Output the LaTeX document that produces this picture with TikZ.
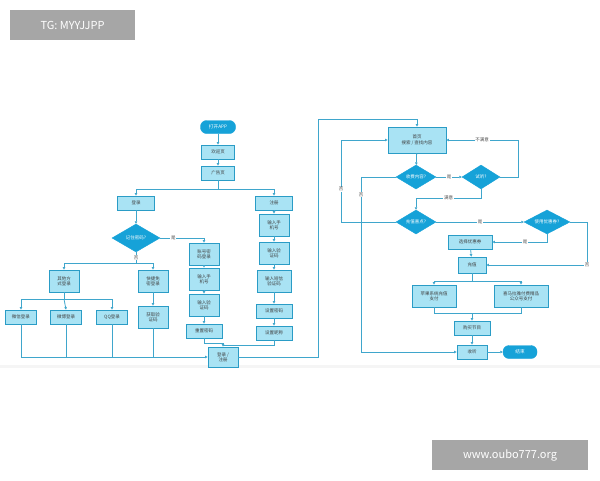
\documentclass[tikz,border=0pt]{standalone}
\usepackage{fontspec}
\setmainfont{Noto Sans CJK SC}
\usetikzlibrary{shapes.geometric,arrows.meta}
\definecolor{bx}{HTML}{A9E3F4}
\definecolor{bd}{HTML}{2A9CC6}
\definecolor{dm}{HTML}{16A2D8}
\definecolor{ln}{HTML}{3FA6CC}
\definecolor{wm}{HTML}{A6A6A6}
\begin{document}
\begin{tikzpicture}[x=1pt,y=-1pt,
  box/.style={draw=bd,fill=bx,line width=0.8pt,inner sep=0.5pt,align=center,font=\fontsize{4.5}{5.2}\selectfont,text=black!75},
  dia/.style={diamond,aspect=1.7,fill=dm,draw=dm,inner sep=0pt,align=center,font=\fontsize{4.5}{5}\selectfont,text=white},
  pill/.style={rounded corners=6pt,fill=dm,draw=dm,inner sep=0pt,font=\fontsize{4.7}{5}\selectfont,text=white},
  lab/.style={fill=white,inner sep=0.6pt,font=\fontsize{4.5}{5}\selectfont,text=black!70},
  a/.style={draw=ln,line width=0.8pt,-{Triangle[length=2.5pt,width=2.5pt]}},
  l/.style={draw=ln,line width=0.8pt},
  wmk/.style={fill=wm,text=white,font=\fontsize{11}{12}\selectfont,inner sep=0pt}]
\useasboundingbox (0,0) rectangle (600,480);
\fill[white] (0,0) rectangle (600,480);
\fill[black!4] (0,365) rectangle (600,368);
\node[wmk,minimum width=125pt,minimum height=30pt] (wm1) at (72.5,25) {TG: MYYJJPP};
\node[wmk,minimum width=156pt,minimum height=30pt] (wm2) at (510,455) {www.oubo777.org};
% left part
\node[pill,minimum width=35pt,minimum height=13pt] (open) at (218,127) {打开APP};
\node[box,minimum width=33pt,minimum height=14pt] (wel) at (218,152) {欢迎页};
\node[box,minimum width=33pt,minimum height=14pt] (ad) at (218,173) {广告页};
\node[box,minimum width=37pt,minimum height=14pt] (login) at (136,203) {登录};
\node[box,minimum width=37pt,minimum height=14pt] (reg) at (274,203) {注册};
\node[dia,minimum width=48pt,minimum height=28pt] (rem) at (136,238) {记住密码?};
\node[box,minimum width=30pt,minimum height=22pt] (acc) at (204,254) {账号密\\码登录};
\node[box,minimum width=30pt,minimum height=22pt] (ph1) at (204,279) {输入手\\机号};
\node[box,minimum width=30pt,minimum height=22pt] (vc1) at (204,305) {输入验\\证码};
\node[box,minimum width=36pt,minimum height=14pt] (rst) at (204,331) {重置密码};
\node[box,minimum width=30pt,minimum height=22pt] (oth) at (64,281) {其他方\\式登录};
\node[box,minimum width=30pt,minimum height=22pt] (qk) at (153,281) {快捷免\\密登录};
\node[box,minimum width=31pt,minimum height=14pt] (wx) at (21,317) {微信登录};
\node[box,minimum width=31pt,minimum height=14pt] (wb) at (66,317) {微博登录};
\node[box,minimum width=31pt,minimum height=14pt] (qq) at (112,317) {QQ登录};
\node[box,minimum width=30pt,minimum height=22pt] (gv) at (153,317) {获取验\\证码};
\node[box,minimum width=30pt,minimum height=22pt] (ph2) at (274,225) {输入手\\机号};
\node[box,minimum width=30pt,minimum height=22pt] (vc2) at (274,253) {输入验\\证码};
\node[box,minimum width=34pt,minimum height=22pt] (sms) at (274,281) {输入短信\\验证码};
\node[box,minimum width=36pt,minimum height=14pt] (spw) at (274,311) {设置密码};
\node[box,minimum width=36pt,minimum height=14pt] (snk) at (274,333) {设置昵称};
\node[box,minimum width=30pt,minimum height=20pt] (lr) at (223,357) {登录 /\\注册};
\path[a] (open) -- (wel);
\path[a] (wel) -- (ad);
\path[l] (ad) -- (218,189);
\path[a] (218,189) -| (login);
\path[a] (218,189) -| (reg);
\path[a] (login) -- (rem);
\path[a] (rem.east) -| node[lab,pos=0.15]{是} (acc.north);
\path[l] (rem.south) -- node[lab,pos=0.5]{否} (136,263);
\path[a] (136,263) -| (oth.north);
\path[a] (136,263) -| (qk.north);
\path[l] (oth) -- (64,299);
\path[a] (64,299) -| (wx.north);
\path[a] (64,299) -- (wb.north);
\path[a] (64,299) -| (qq.north);
\path[a] (qk) -- (gv);
\path[a] (acc) -- (ph1);
\path[a] (ph1) -- (vc1);
\path[a] (vc1) -- (rst);
\path[a] (reg) -- (ph2);
\path[a] (ph2) -- (vc2);
\path[a] (vc2) -- (sms);
\path[a] (sms) -- (spw);
\path[a] (spw) -- (snk);
\path[a] (wx.south) |- (lr.west);
\path[l] (wb.south) -- (66,357);
\path[l] (qq.south) -- (112,357);
\path[l] (gv.south) -- (153,357);
\path[l] (rst.south) -- (204,343) -| (223,345);
\path[a] (snk.south) -- (274,345) -| (lr.north);
% right part
\node[box,minimum width=58pt,minimum height=26pt] (home) at (417,140) {首页\\搜索 / 查找内容};
\node[dia,minimum width=40pt,minimum height=24pt] (fee) at (416,177) {收费内容?};
\node[dia,minimum width=38pt,minimum height=24pt] (try) at (481,177) {试听?};
\node[dia,minimum width=40pt,minimum height=24pt] (chg) at (416,222) {充值喜点?};
\node[dia,minimum width=46pt,minimum height=24pt] (cou) at (547,222) {使用优惠券?};
\node[box,minimum width=44pt,minimum height=14pt] (sel) at (470,242) {选择优惠券};
\node[box,minimum width=28pt,minimum height=16pt] (rc) at (472,265) {充值};
\node[box,minimum width=44pt,minimum height=22pt] (apl) at (434,296) {苹果系统充值\\支付};
\node[box,minimum width=54pt,minimum height=22pt] (xm) at (521,296) {喜马拉雅付费精品\\公众号支付};
\node[box,minimum width=36pt,minimum height=14pt] (buy) at (472,328) {购买节目};
\node[box,minimum width=30pt,minimum height=14pt] (lis) at (472,352) {收听};
\node[pill,minimum width=34pt,minimum height=13pt] (end) at (520,352) {结束};
\path[a] (lr.east) -| (318,119) -| (home.north);
\path[a] (home) -- (fee);
\path[a] (fee) -- node[lab]{是} (try);
\path[a] (try.east) -- (518,177) |- node[lab,pos=0.75]{不满意} (home.east);
\path[a] (try.south) |- node[lab,pos=0.75]{满意} (416,198) -- (chg.north);
\path[a] (chg.west) -| (341,140) node[lab,pos=0.7]{否} -- (home.west);
\path[a] (fee.west) -| node[lab,pos=0.55]{否} (361,352) -- (lis.west);
\path[a] (chg) -- node[lab]{是} (cou);
\path[a] (cou.south) |- node[lab,pos=0.7]{是} (sel.east);
\path[a] (cou.east) -- (587,222) |- node[lab,pos=0.5]{否} (rc.east);
\path[a] (sel) -- (rc);
\path[l] (rc) -- (472,281);
\path[a] (472,281) -| (apl.north);
\path[a] (472,281) -| (xm.north);
\path[l] (apl.south) |- (472,313);
\path[l] (xm.south) |- (472,313);
\path[a] (472,313) -- (buy);
\path[a] (buy) -- (lis);
\path[a] (lis) -- (end);
\end{tikzpicture}
\end{document}
